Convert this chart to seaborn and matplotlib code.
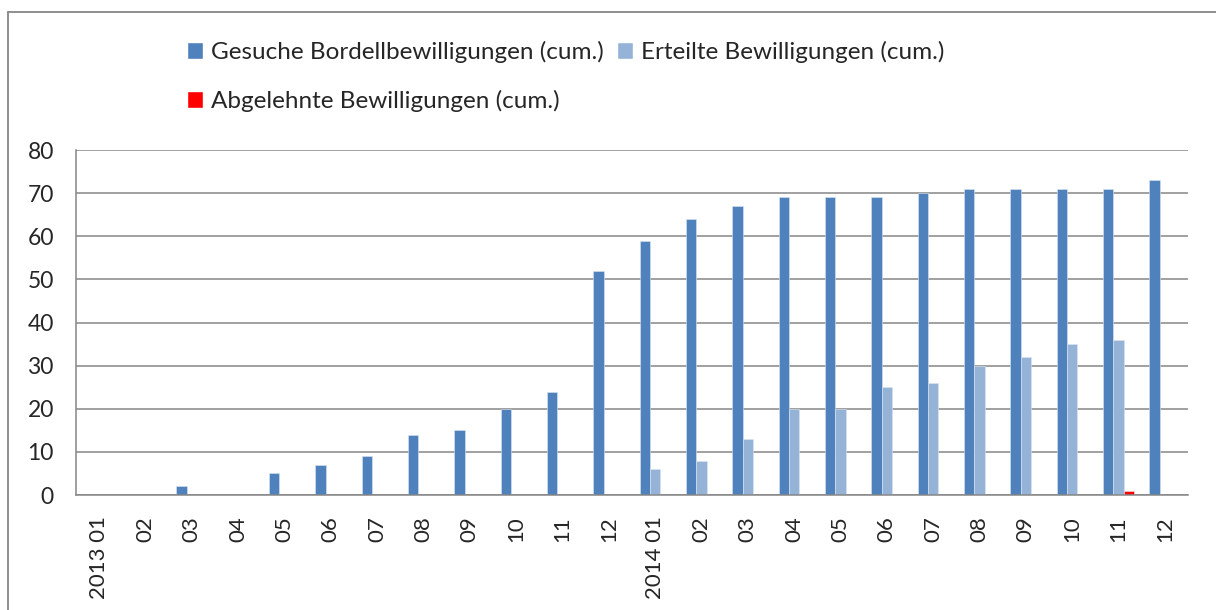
import pandas as pd
import matplotlib
matplotlib.use("Agg")
import matplotlib.pyplot as plt
import seaborn as sns
from matplotlib.patches import Patch
from matplotlib.lines import Line2D

# months (unique keys) and the labels shown under the axis
months = [f"2013 {m:02d}" for m in range(1, 13)] + [f"2014 {m:02d}" for m in range(1, 13)]
tick_labels = ["2013 01", "02", "03", "04", "05", "06", "07", "08", "09", "10", "11", "12",
               "2014 01", "02", "03", "04", "05", "06", "07", "08", "09", "10", "11", "12"]

series_names = ["Gesuche Bordellbewilligungen (cum.)",
                "Erteilte Bewilligungen (cum.)",
                "Abgelehnte Bewilligungen (cum.)"]
gesuche = [0, 0, 2, 0, 5, 7, 9, 14, 15, 20, 24, 52,
           59, 64, 67, 69, 69, 69, 70, 71, 71, 71, 71, 73]
erteilt = [0, 0, 0, 0, 0, 0, 0, 0, 0, 0, 0, 0,
           6, 8, 13, 20, 20, 25, 26, 30, 32, 35, 36, 0]
abgelehnt = [0, 0, 0, 0, 0, 0, 0, 0, 0, 0, 0, 0,
             0, 0, 0, 0, 0, 0, 0, 0, 0, 0, 1, 0]
colors = ["#4F81BD", "#95B3D7", "#FF0000"]

df = pd.concat([
    pd.DataFrame({"Monat": months, "Wert": vals, "Serie": name})
    for name, vals in zip(series_names, [gesuche, erteilt, abgelehnt])
])

sns.set_style("white")
plt.rcParams["font.family"] = ["Lato", "DejaVu Sans"]
grid_col = "#868686"

fig = plt.figure(figsize=(12.16, 6.10), dpi=100)
ax = fig.add_axes([76 / 1216, 1 - 495 / 610, (1188 - 76) / 1216, (495 - 150) / 610])

sns.barplot(data=df, x="Monat", y="Wert", hue="Serie", order=months,
            hue_order=series_names, palette=colors, saturation=1, width=0.67, gap=0,
            edgecolor="#DCE6F2", linewidth=0.4, legend=False, ax=ax)

ax.set_xlim(-0.5, len(months) - 0.5)
ax.set_ylim(0, 80)
ax.set_yticks(range(0, 81, 10))
ax.yaxis.grid(True, color=grid_col, linewidth=1.1)
ax.set_axisbelow(True)
ax.set_xlabel("")
ax.set_ylabel("")

# labels at category centres, tick marks between the categories
ax.set_xticks(range(len(months)))
ax.set_xticklabels(tick_labels, rotation=90, va="top", ha="center")
ax.set_xticks([i - 0.5 for i in range(len(months) + 1)], minor=True)
ax.tick_params(axis="x", which="major", length=0, pad=15, labelsize=16)
ax.tick_params(axis="x", which="minor", length=6, width=1.1, color=grid_col, direction="out")
ax.tick_params(axis="y", length=6, width=1.1, color=grid_col, direction="out", pad=10, labelsize=16.5)

for side in ["top", "right"]:
    ax.spines[side].set_visible(False)
for side in ["left", "bottom"]:
    ax.spines[side].set_color(grid_col)
    ax.spines[side].set_linewidth(1.1)

# legend: two items in the first row, one in the second
handles = [Patch(facecolor=colors[i], label=series_names[i]) for i in [0, 2, 1]]
fig.legend(handles=handles, loc="upper left", bbox_to_anchor=(177 / 1216, 1 - 31 / 610),
           ncol=2, frameon=False, fontsize=17.5, handlelength=0.65, handleheight=0.7,
           handletextpad=0.35, columnspacing=0.55, labelspacing=1.12, borderaxespad=0)

# outer chart frame (only left and top are inside the picture)
fig.add_artist(Line2D([8 / 1216, 8 / 1216], [0, 1 - 12 / 610], transform=fig.transFigure,
                      color=grid_col, linewidth=1.3))
fig.add_artist(Line2D([8 / 1216, 1], [1 - 12 / 610, 1 - 12 / 610], transform=fig.transFigure,
                      color=grid_col, linewidth=1.3))

fig.savefig("out.png", dpi=100)
